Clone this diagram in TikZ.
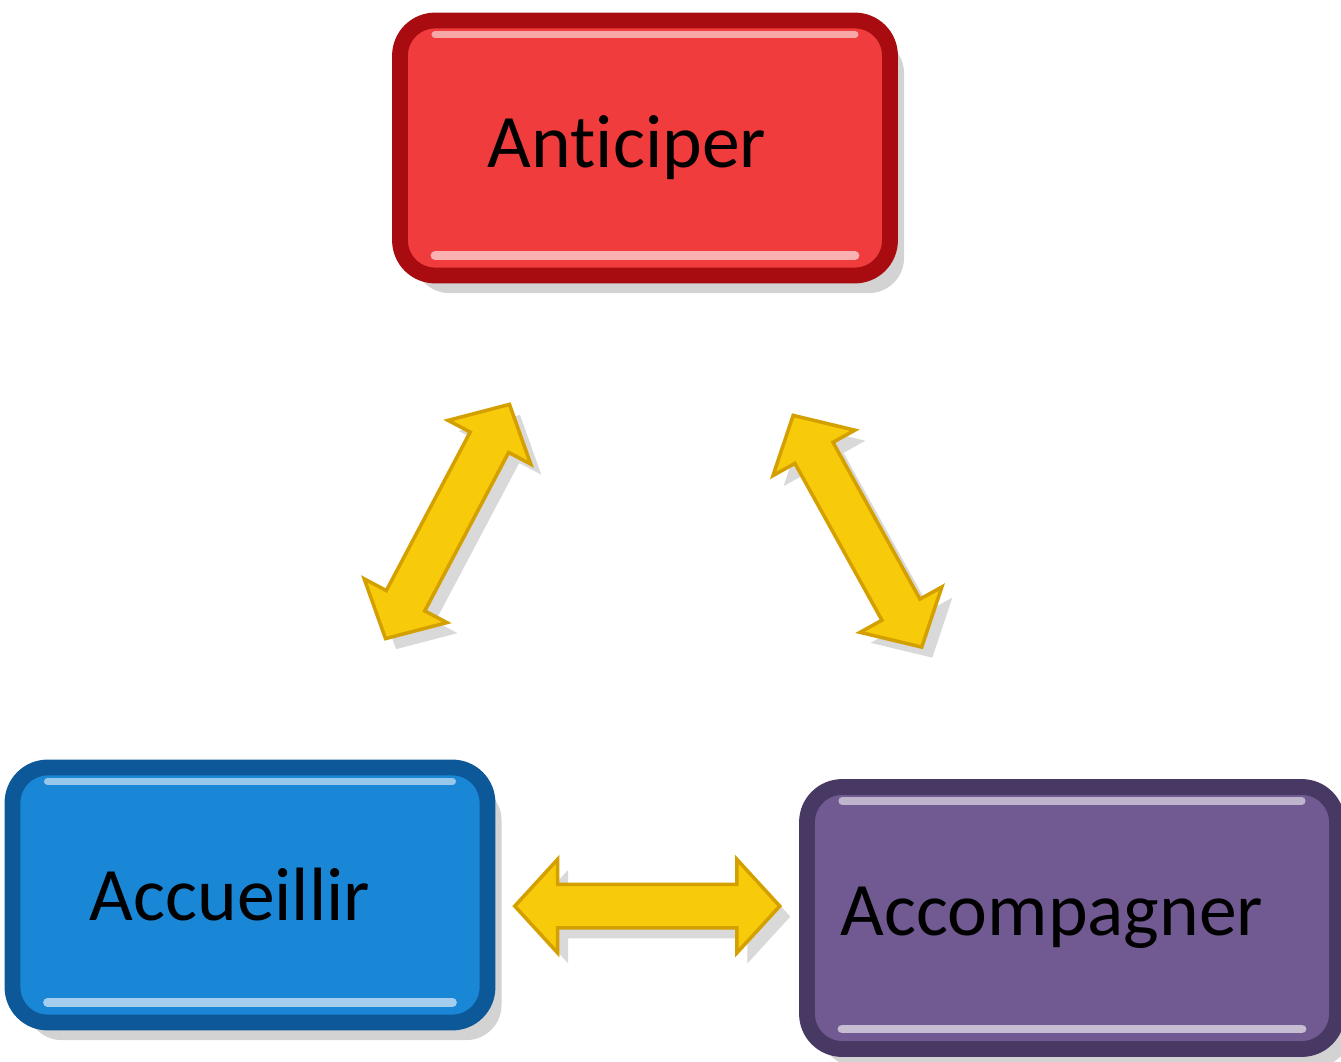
\documentclass[tikz,border=0pt]{standalone}
\usepackage{fontspec}
\setmainfont{Carlito}[Ligatures=NoCommon]
\usepackage{xcolor}
\usepackage{tikz}
\usetikzlibrary{shapes.arrows, shadows}

\definecolor{antface}{RGB}{240,60,60}
\definecolor{antrim}{RGB}{168,12,16}
\definecolor{accface}{RGB}{26,134,214}
\definecolor{accrim}{RGB}{12,88,152}
\definecolor{acpface}{RGB}{113,90,145}
\definecolor{acprim}{RGB}{72,56,100}
\definecolor{arrowface}{RGB}{247,203,10}
\definecolor{arrowrim}{RGB}{212,160,0}

\begin{document}
\begin{tikzpicture}[
        stepbox/.style={shape=rectangle, rounded corners=10pt, line width=4.5pt,
            font=\fontsize{21.5}{25}\selectfont, text=black,
            drop shadow={shadow xshift=4pt, shadow yshift=-5pt, opacity=0.35},
            path picture={
                \draw[white, opacity=0.55, line width=2pt, line cap=round]
                    ([xshift=0.35cm, yshift=-0.14cm]path picture bounding box.north west) --
                    ([xshift=-0.35cm, yshift=-0.14cm]path picture bounding box.north east);
                \draw[white, opacity=0.6, line width=2.5pt, line cap=round]
                    ([xshift=0.35cm, yshift=0.2cm]path picture bounding box.south west) --
                    ([xshift=-0.35cm, yshift=0.2cm]path picture bounding box.south east);
            }},
        arrowlink/.style={double arrow, draw=arrowrim, fill=arrowface, line width=1pt,
            minimum height=2.65cm, inner xsep=0pt, inner ysep=0.2cm,
            double arrow head extend=0.25cm, double arrow tip angle=95,
            drop shadow={shadow xshift=3pt, shadow yshift=-3pt, opacity=0.3}}
    ]
    \useasboundingbox (0, 0) rectangle (13.41, 10.61);

    % text sits a little left of the box centre
    \node[stepbox, draw=antrim, fill=antface, minimum width=4.9cm, minimum height=2.55cm] (ant) at (6.45, 9.13) {Anticiper\hspace*{0.36cm}};
    \node[stepbox, draw=accrim, fill=accface, minimum width=4.75cm, minimum height=2.55cm] (acc) at (2.50, 1.66) {Accueillir\hspace*{0.4cm}};
    \node[stepbox, draw=acprim, fill=acpface, minimum width=5.3cm, minimum height=2.62cm] (acp) at (10.72, 1.43) {Accompagner\hspace*{0.4cm}};

    \path (acc) -- node[arrowlink, sloped] {} (ant);
    \path (ant) -- node[arrowlink, sloped] {} (acp);
    \path (acc) -- node[arrowlink] {} (acp);
\end{tikzpicture}
\end{document}
